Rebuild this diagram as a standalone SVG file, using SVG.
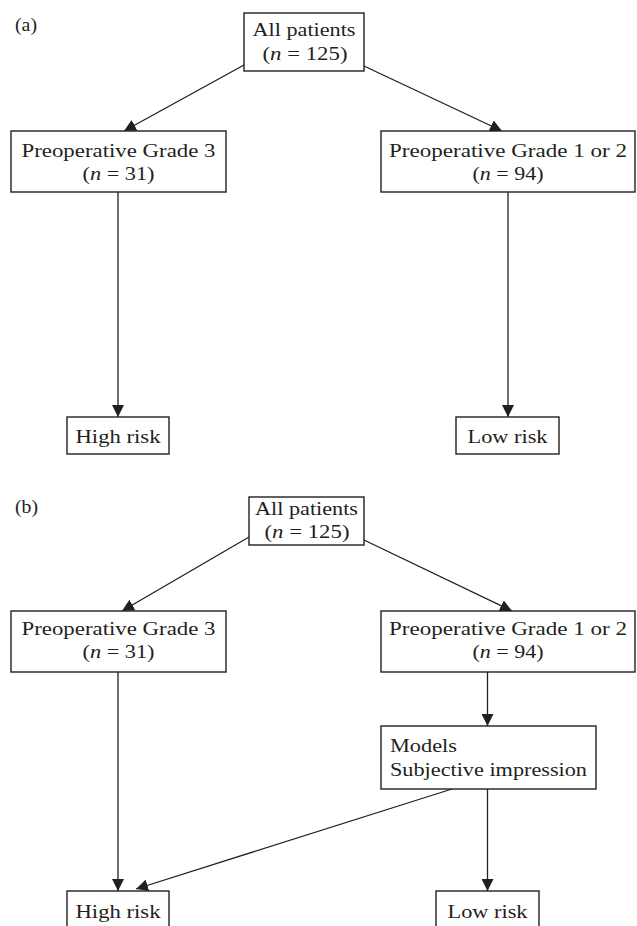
<svg xmlns="http://www.w3.org/2000/svg" width="637" height="926" viewBox="0 0 637 926">
<defs>
<marker id="arr" viewBox="0 0 10 10" refX="10" refY="5" markerWidth="12" markerHeight="12" markerUnits="userSpaceOnUse" orient="auto">
<path d="M0,0 L10,5 L0,10 z" fill="#231f20"/>
</marker>
<style>
rect.box{fill:#fff;stroke:#231f20;stroke-width:1.4}
text{font-family:"Liberation Serif","Times New Roman",serif;font-size:19.5px;fill:#231f20}
text.c{text-anchor:middle}
.conn line{stroke:#231f20;stroke-width:1.3;marker-end:url(#arr)}
.i{font-style:italic}
</style>
</defs>
<rect width="637" height="926" fill="#fff"/>
<text x="15" y="31" textLength="22" lengthAdjust="spacingAndGlyphs">(a)</text>
<text x="15" y="513" textLength="23" lengthAdjust="spacingAndGlyphs">(b)</text>
<g id="connectors" class="conn">
<line x1="244" y1="65" x2="124" y2="131"/>
<line x1="364" y1="66" x2="502" y2="131"/>
<line x1="118" y1="192" x2="118" y2="417"/>
<line x1="508" y1="192" x2="508" y2="417"/>
<line x1="249" y1="537" x2="122" y2="611"/>
<line x1="364" y1="540" x2="512" y2="611"/>
<line x1="118" y1="672" x2="118" y2="891"/>
<line x1="487.5" y1="672" x2="487.5" y2="726"/>
<line x1="452" y1="789" x2="136" y2="889"/>
<line x1="487.5" y1="789" x2="487.5" y2="891"/>
</g>
<g id="a_all">
<rect class="box" x="244" y="13" width="120" height="58"/>
<text class="c" x="304" y="36" textLength="103" lengthAdjust="spacingAndGlyphs">All patients</text>
<text class="c" x="305" y="60" textLength="85" lengthAdjust="spacingAndGlyphs">(<tspan class="i">n</tspan> = 125)</text>
</g>
<g id="a_grade3">
<rect class="box" x="11" y="131" width="215" height="61"/>
<text class="c" x="118.5" y="157" textLength="194" lengthAdjust="spacingAndGlyphs">Preoperative Grade 3</text>
<text class="c" x="118.5" y="180" textLength="72" lengthAdjust="spacingAndGlyphs">(<tspan class="i">n</tspan> = 31)</text>
</g>
<g id="a_grade12">
<rect class="box" x="381" y="131" width="254" height="61"/>
<text class="c" x="508" y="157" textLength="238" lengthAdjust="spacingAndGlyphs">Preoperative Grade 1 or 2</text>
<text class="c" x="508" y="180" textLength="71" lengthAdjust="spacingAndGlyphs">(<tspan class="i">n</tspan> = 94)</text>
</g>
<g id="a_high">
<rect class="box" x="67" y="417" width="102" height="37"/>
<text class="c" x="118" y="443" textLength="85" lengthAdjust="spacingAndGlyphs">High risk</text>
</g>
<g id="a_low">
<rect class="box" x="456" y="417" width="103" height="37"/>
<text class="c" x="507.5" y="443" textLength="80" lengthAdjust="spacingAndGlyphs">Low risk</text>
</g>
<g id="b_all">
<rect class="box" x="249" y="497" width="115" height="48"/>
<text class="c" x="306.5" y="515" textLength="103" lengthAdjust="spacingAndGlyphs">All patients</text>
<text class="c" x="307" y="538" textLength="85" lengthAdjust="spacingAndGlyphs">(<tspan class="i">n</tspan> = 125)</text>
</g>
<g id="b_grade3">
<rect class="box" x="11" y="611" width="215" height="61"/>
<text class="c" x="118.5" y="635" textLength="194" lengthAdjust="spacingAndGlyphs">Preoperative Grade 3</text>
<text class="c" x="118.5" y="658" textLength="72" lengthAdjust="spacingAndGlyphs">(<tspan class="i">n</tspan> = 31)</text>
</g>
<g id="b_grade12">
<rect class="box" x="381" y="611" width="254" height="61"/>
<text class="c" x="508" y="635" textLength="238" lengthAdjust="spacingAndGlyphs">Preoperative Grade 1 or 2</text>
<text class="c" x="508" y="658" textLength="71" lengthAdjust="spacingAndGlyphs">(<tspan class="i">n</tspan> = 94)</text>
</g>
<g id="b_models">
<rect class="box" x="381" y="726" width="215" height="63"/>
<text x="390" y="752" textLength="67" lengthAdjust="spacingAndGlyphs">Models</text>
<text x="390" y="776" textLength="197" lengthAdjust="spacingAndGlyphs">Subjective impression</text>
</g>
<g id="b_high">
<rect class="box" x="67" y="891" width="102" height="40"/>
<text class="c" x="118" y="918" textLength="85" lengthAdjust="spacingAndGlyphs">High risk</text>
</g>
<g id="b_low">
<rect class="box" x="436" y="891" width="103" height="40"/>
<text class="c" x="487.5" y="918" textLength="80" lengthAdjust="spacingAndGlyphs">Low risk</text>
</g>
</svg>
